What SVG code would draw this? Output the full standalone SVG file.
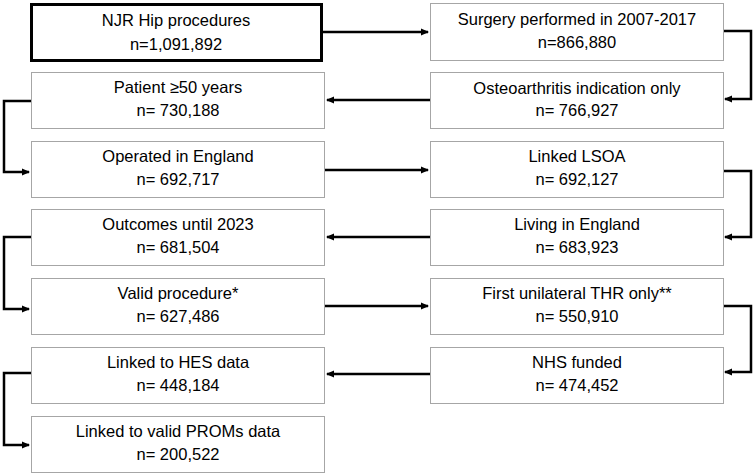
<svg xmlns="http://www.w3.org/2000/svg" width="755" height="475" viewBox="0 0 755 475">
<style>
.box{fill:#fff;stroke:#a6a6a6;stroke-width:1}
.main{fill:#fff;stroke:#000;stroke-width:3}
text{font-family:"Liberation Sans",Arial,sans-serif;font-size:16.5px;fill:#000;text-anchor:middle}
.c{fill:none;stroke:#000;stroke-width:2.5}
</style>
<defs>
<marker id="ah" markerWidth="8" markerHeight="8" refX="7" refY="4" orient="auto" markerUnits="userSpaceOnUse">
<path d="M0,0.5 L8,4 L0,7.5 Z" fill="#000"/>
</marker>
</defs>
<rect width="755" height="475" fill="#fff"/>
<g id="connectors">
<path class="c" d="M322,32 H428" marker-end="url(#ah)"/>
<path class="c" d="M723,31 H751 V99 H725" marker-end="url(#ah)"/>
<path class="c" d="M430,100 H327" marker-end="url(#ah)"/>
<path class="c" d="M31,101 H4 V172 H29" marker-end="url(#ah)"/>
<path class="c" d="M324,170 H428" marker-end="url(#ah)"/>
<path class="c" d="M723,171 H751 V237 H725" marker-end="url(#ah)"/>
<path class="c" d="M430,237 H327" marker-end="url(#ah)"/>
<path class="c" d="M31,237 H4 V309 H29" marker-end="url(#ah)"/>
<path class="c" d="M324,306 H428" marker-end="url(#ah)"/>
<path class="c" d="M723,306 H751 V372 H725" marker-end="url(#ah)"/>
<path class="c" d="M430,374 H327" marker-end="url(#ah)"/>
<path class="c" d="M31,373 H4 V445 H29" marker-end="url(#ah)"/>
</g>
<g id="n1"><rect class="main" x="31.5" y="4.5" width="290" height="56"/><text x="176" y="26">NJR Hip procedures</text><text x="176" y="50">n=1,091,892</text></g>
<g id="n2"><rect class="box" x="430.5" y="3.5" width="293" height="57"/><text x="577" y="25">Surgery performed in 2007-2017</text><text x="577" y="48">n=866,880</text></g>
<g id="n3"><rect class="box" x="430.5" y="72.5" width="293" height="56"/><text x="577" y="94">Osteoarthritis indication only</text><text x="577" y="116">n= 766,927</text></g>
<g id="n4"><rect class="box" x="31.5" y="72.5" width="293" height="56"/><text x="178" y="93">Patient ≥50 years</text><text x="178" y="116">n= 730,188</text></g>
<g id="n5"><rect class="box" x="31.5" y="141.5" width="293" height="56"/><text x="178" y="162">Operated in England</text><text x="178" y="185">n= 692,717</text></g>
<g id="n6"><rect class="box" x="430.5" y="141.5" width="293" height="56"/><text x="577" y="162">Linked LSOA</text><text x="577" y="185">n= 692,127</text></g>
<g id="n7"><rect class="box" x="430.5" y="209.5" width="293" height="56"/><text x="577" y="230">Living in England</text><text x="577" y="253">n= 683,923</text></g>
<g id="n8"><rect class="box" x="31.5" y="209.5" width="293" height="56"/><text x="178" y="230">Outcomes until 2023</text><text x="178" y="253">n= 681,504</text></g>
<g id="n9"><rect class="box" x="31.5" y="278.5" width="293" height="56"/><text x="178" y="299">Valid procedure*</text><text x="178" y="322">n= 627,486</text></g>
<g id="n10"><rect class="box" x="430.5" y="278.5" width="293" height="56"/><text x="577" y="299">First unilateral THR only**</text><text x="577" y="322">n= 550,910</text></g>
<g id="n11"><rect class="box" x="430.5" y="347.5" width="293" height="56"/><text x="577" y="368">NHS funded</text><text x="577" y="391">n= 474,452</text></g>
<g id="n12"><rect class="box" x="31.5" y="347.5" width="293" height="56"/><text x="178" y="368">Linked to HES data</text><text x="178" y="391">n= 448,184</text></g>
<g id="n13"><rect class="box" x="31.5" y="416.5" width="293" height="56"/><text x="178" y="437">Linked to valid PROMs data</text><text x="178" y="460">n= 200,522</text></g>
</svg>
